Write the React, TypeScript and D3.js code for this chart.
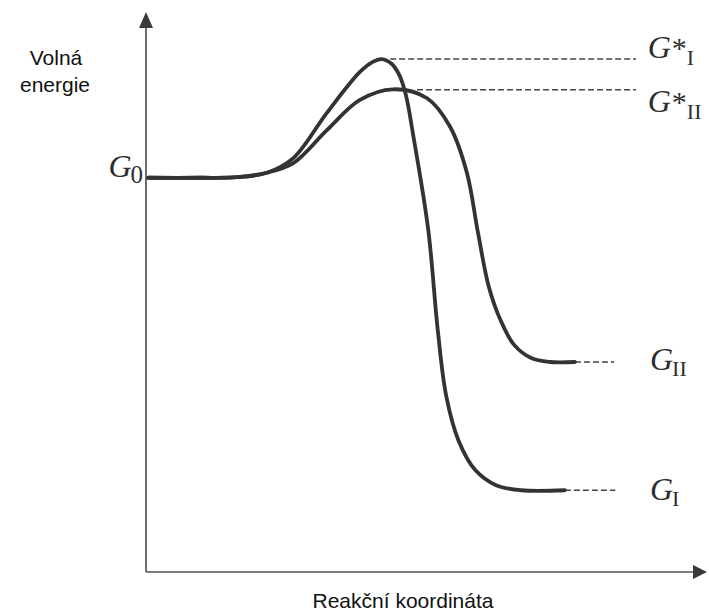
import React from "react";
import * as d3 from "d3";

const W = 709;
const H = 613;

// Reaction coordinate (x) vs free energy (y), arbitrary units 0..10
const reactionI: [number, number][] = [
  [0.04, 7.04], [0.96, 7.04], [1.63, 7.05], [2.16, 7.13], [2.63, 7.39],
  [3.23, 8.2], [3.82, 8.93], [4.05, 9.11], [4.21, 9.16], [4.38, 9.08],
  [4.52, 8.88], [4.64, 8.52], [4.78, 7.75], [5.04, 6.11], [5.21, 4.32],
  [5.36, 3.15], [5.58, 2.35], [5.88, 1.82], [6.25, 1.55], [6.7, 1.46],
  [7.48, 1.46],
];

const reactionII: [number, number][] = [
  [0.04, 7.04], [0.96, 7.04], [1.63, 7.05], [2.16, 7.13], [2.63, 7.3],
  [3.23, 7.89], [3.82, 8.43], [4.41, 8.62], [5.02, 8.46], [5.43, 7.95],
  [5.73, 7.13], [5.93, 6.05], [6.12, 5.1], [6.33, 4.5], [6.57, 4.06],
  [6.88, 3.82], [7.21, 3.75], [7.66, 3.75],
];

// Energy levels
const levelG0 = 7.04;
const levelGStarI = 9.16;
const levelGStarII = 8.61;
const levelGII = 3.75;
const levelGI = 1.46;

// Dashed guide lines: [xStart, xEnd, level]
const guideLines: [number, number, number][] = [
  [4.36, 8.75, levelGStarI],
  [4.84, 8.75, levelGStarII],
  [7.66, 8.36, levelGII],
  [7.48, 8.38, levelGI],
];

const axisTitleX = "Reakční koordináta";
const axisTitleY = ["Volná", "energie"];

const xScale = d3.scaleLinear().domain([0, 10]).range([146, 706]);
const yScale = d3.scaleLinear().domain([0, 10]).range([572, 12]);

const line = d3
  .line<[number, number]>()
  .x((d) => xScale(d[0]))
  .y((d) => yScale(d[1]))
  .curve(d3.curveCatmullRom.alpha(0.5));

const serif = "'Liberation Serif', 'DejaVu Serif', serif";
const sans = "'Liberation Sans', Arial, sans-serif";

function Label({
  x,
  y,
  sub,
  star,
  anchor,
}: {
  x: number;
  y: number;
  sub: string;
  star?: boolean;
  anchor?: "start" | "end";
}) {
  return (
    <text
      x={x}
      y={y}
      fontFamily={serif}
      fontSize={32}
      fill="#2e2e2e"
      textAnchor={anchor || "start"}
    >
      <tspan fontStyle="italic">G</tspan>
      {star ? <tspan fontSize={30} dx={1}>*</tspan> : null}
      <tspan fontSize={sub === "0" ? 25 : 22} dy={star ? 7 : 6} dx={star ? 0 : -1}>
        {sub}
      </tspan>
    </text>
  );
}

export default function App() {
  const x0 = xScale(0);
  const y0 = yScale(0);
  const xEnd = xScale(10);
  const yTop = yScale(10);
  const axisColor = "#555";
  const curveColor = "#333";

  return (
    <svg
      width={W}
      height={H}
      viewBox={`0 0 ${W} ${H}`}
      style={{ position: "absolute", left: 0, top: 0, background: "#fff" }}
    >
      <rect x={0} y={0} width={W} height={H} fill="#fff" />
      {/* axes */}
      <line x1={x0} y1={y0} x2={x0} y2={yTop + 14} stroke={axisColor} strokeWidth={1.7} />
      <path
        d={`M${x0},${yTop} L${x0 - 7},${yTop + 16} L${x0 + 7},${yTop + 16} Z`}
        fill="#3a3a3a"
      />
      <line x1={x0} y1={y0} x2={xEnd - 12} y2={y0} stroke={axisColor} strokeWidth={1.7} />
      <path
        d={`M${xEnd + 1},${y0} L${xEnd - 13},${y0 - 7} L${xEnd - 13},${y0 + 7} Z`}
        fill="#3a3a3a"
      />

      {/* dashed guides */}
      {guideLines.map(([xa, xb, lv], i) => (
        <line
          key={i}
          x1={xScale(xa)}
          x2={xScale(xb)}
          y1={yScale(lv)}
          y2={yScale(lv)}
          stroke="#444"
          strokeWidth={1.5}
          strokeDasharray="6,3"
        />
      ))}

      {/* curves */}
      <path d={line(reactionII) || ""} fill="none" stroke={curveColor} strokeWidth={3.8} strokeLinecap="round" />
      <path d={line(reactionI) || ""} fill="none" stroke={curveColor} strokeWidth={3.8} strokeLinecap="round" />

      {/* level labels */}
      <Label x={x0 - 3} y={yScale(levelG0) - 1} sub="0" anchor="end" />
      <Label x={xScale(8.96)} y={yScale(levelGStarI) - 1} sub="I" star />
      <Label x={xScale(8.96)} y={yScale(levelGStarII) + 22} sub="II" star />
      <Label x={xScale(9.0)} y={yScale(levelGII) + 8} sub="II" />
      <Label x={xScale(9.0)} y={yScale(levelGI) + 10} sub="I" />

      {/* axis titles */}
      <text x={56} y={65} fontFamily={sans} fontSize={21} fill="#111" textAnchor="middle">
        {axisTitleY[0]}
      </text>
      <text x={55} y={92} fontFamily={sans} fontSize={21} fill="#111" textAnchor="middle">
        {axisTitleY[1]}
      </text>
      <text x={403} y={608} fontFamily={sans} fontSize={21} fill="#111" textAnchor="middle">
        {axisTitleX}
      </text>
    </svg>
  );
}
